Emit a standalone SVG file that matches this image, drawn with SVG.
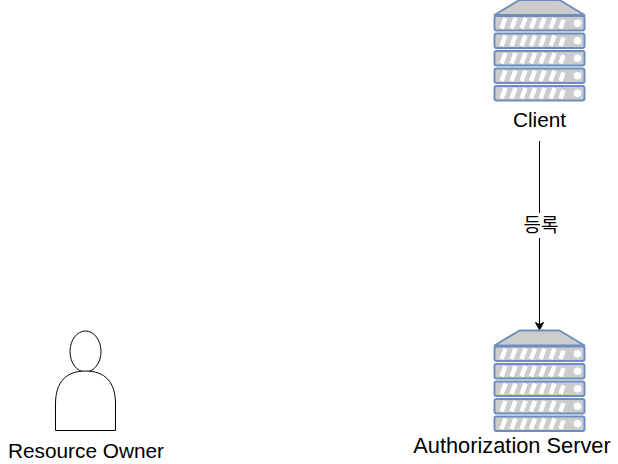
<svg xmlns="http://www.w3.org/2000/svg" width="618" height="464" viewBox="0 0 618 464">
<style>
text{font-family:"Liberation Sans",Arial,"Noto Sans CJK KR",sans-serif;font-size:20.8px;fill:#000;text-anchor:middle}
.big{font-size:21.8px}
.ko{font-size:19px}
.rack{fill:#ccc;stroke:#6c8ebf;stroke-width:2}
.top{fill:#ccc;stroke:#6c8ebf;stroke-width:2;stroke-linejoin:round}
.slash{stroke:#fff;stroke-width:4.500;fill:none}
.led{fill:#fff}
.person{fill:#fff;stroke:#000;stroke-width:1}
.edge{fill:none;stroke:#000;stroke-width:1}
</style>
<defs>
<marker id="arrow" markerUnits="userSpaceOnUse" markerWidth="9" markerHeight="10" refX="8" refY="5" orient="auto"><path d="M0.5,1 L8,5 L0.5,9 L2.5,5 Z" fill="#000" stroke="#000" stroke-width="1"/></marker>
<g id="unit">
<rect class="rack" x="0" y="0" width="90" height="14.500" rx="2"/>
<path class="slash" d="M7,12.500 L11,2 M17,12.500 L21,2 M27,12.500 L31,2 M36.500,12.500 L40.500,2 M46,12.500 L50,2 M56,12.500 L60,2 M66,12.500 L69,4"/>
<circle class="led" cx="83" cy="7.200" r="3.800"/>
</g>
<g id="server">
<path class="top" d="M0,15 L25,0 L65,0 L90,15 Z"/>
<use href="#unit" y="16"/>
<use href="#unit" y="33.500"/>
<use href="#unit" y="51"/>
<use href="#unit" y="68.500"/>
<use href="#unit" y="86"/>
</g>
</defs>
<g id="connectors">
<path class="edge" d="M539.500,141 V213"/>
<path class="edge" d="M539.500,238 V330" marker-end="url(#arrow)"/>
</g>
<g id="client">
<use href="#server" x="494.500" y="0"/>
<text x="539.500" y="127">Client</text>
</g>
<g id="auth-server">
<use href="#server" x="494.500" y="330.500"/>
<text class="big" x="512" y="453">Authorization Server</text>
</g>
<g id="resource-owner">
<ellipse class="person" cx="85.500" cy="351.500" rx="15.500" ry="20.500"/>
<path class="person" d="M55.500,430.500 V404 C55.500,382 66,371 85.500,371 C105,371 115.500,382 115.500,404 V430.500 Z"/>
<text x="86" y="457.500">Resource Owner</text>
</g>
<g id="edge-label">
<text class="ko" x="541" y="232">등록</text>
</g>
</svg>
